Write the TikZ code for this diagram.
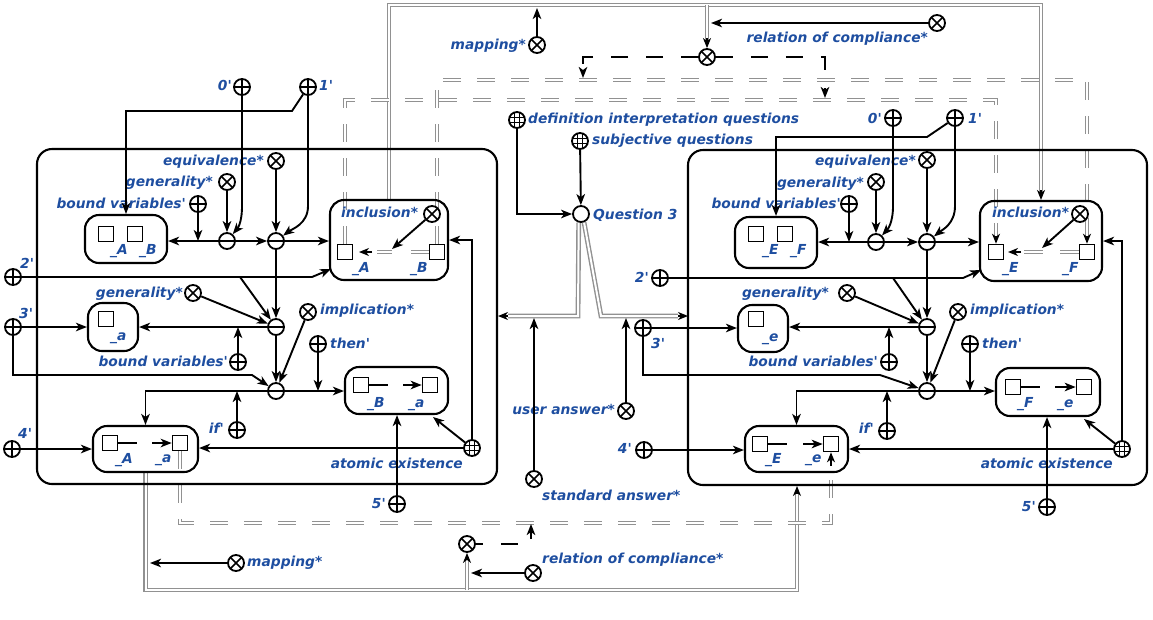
\documentclass[tikz,border=0pt]{standalone}
\usepackage{fontspec}
\setmainfont{DejaVu Sans}
\usetikzlibrary{arrows.meta,calc}
\pgfdeclarelayer{bg}
\pgfsetlayers{bg,main}
\definecolor{lblue}{RGB}{30,78,160}
\definecolor{dgray}{RGB}{145,145,145}
\newcommand{\qt}{\textquotesingle}
\tikzset{
  lbl/.style={text=lblue,font=\fontsize{13.8}{15}\selectfont\bfseries\itshape,inner sep=0pt},
  sym/.style={circle,draw,line width=1.8pt,minimum size=16pt,inner sep=0pt,fill=white},
  oplus/.style={sym,path picture={\draw[line width=1.6pt] (path picture bounding box.north)--(path picture bounding box.south) (path picture bounding box.west)--(path picture bounding box.east);}},
  otimes/.style={sym,path picture={\draw[line width=1.6pt] (path picture bounding box.north west)--(path picture bounding box.south east) (path picture bounding box.south west)--(path picture bounding box.north east);}},
  ominus/.style={sym,path picture={\draw[line width=1.6pt] (path picture bounding box.west)--(path picture bounding box.east);}},
  ogrid/.style={sym,path picture={\foreach \d in {-2.7,2.7}{\draw[line width=0.9pt] ([xshift=\d pt]path picture bounding box.north)--([xshift=\d pt]path picture bounding box.south) ([yshift=\d pt]path picture bounding box.west)--([yshift=\d pt]path picture bounding box.east);}}},
  rbox/.style={draw,line width=2.1pt,rounded corners=14pt,inner sep=0pt},
  frm/.style={draw,line width=2.1pt,rounded corners=15pt,inner sep=0pt},
  sq/.style={draw,line width=1.6pt,minimum size=15pt,inner sep=0pt},
  ln/.style={line width=1.9pt},
  arr/.style={line width=1.9pt,-{Stealth[length=11pt,width=8.5pt,inset=3pt]}},
  tipo/.style={line width=1.4pt,-{Stealth[length=10pt,width=8pt,inset=3pt]}},
  dbl/.style={draw=dgray,double=white,line width=1.4pt,double distance=2pt},
  ddbl/.style={dbl,dash pattern=on 18pt off 16pt},
  bdash/.style={line width=2.4pt,dash pattern=on 17pt off 18pt},
}
\begin{document}
\begin{tikzpicture}[x=1pt,y=-1pt]
\useasboundingbox (0,0) rectangle (1153,619);
% frames
\node[frm,minimum width=460pt,minimum height=335pt] (frL) at (267,316.5) {};
\node[frm,minimum width=459pt,minimum height=335pt] (frR) at (917.5,317.5) {};
% boxes
\node[rbox,minimum width=82pt,minimum height=48pt] (b1L) at (126,239) {};
\node[rbox,minimum width=50pt,minimum height=48pt] (b2L) at (113,327) {};
\node[rbox,minimum width=103pt,minimum height=47pt] (b3L) at (396.5,390.5) {};
\node[rbox,minimum width=105pt,minimum height=46pt] (b4L) at (145.5,449) {};
\node[rbox,minimum width=118pt,minimum height=80pt] (incL) at (389,240) {};
\node[rbox,minimum width=82pt,minimum height=51pt] (b1R) at (776,242.5) {};
\node[rbox,minimum width=50pt,minimum height=47pt] (b2R) at (763,328.5) {};
\node[rbox,minimum width=104pt,minimum height=48pt] (b3R) at (1048,392) {};
\node[rbox,minimum width=103pt,minimum height=46pt] (b4R) at (796.5,449) {};
\node[rbox,minimum width=122pt,minimum height=80pt] (incR) at (1041,241) {};
% squares
\node[sq] (s1La) at (106,234) {}; \node[sq] (s1Lb) at (135,234) {};
\node[sq] (s2La) at (106,319) {};
\node[sq] (s3La) at (361,385) {}; \node[sq] (s3Lb) at (430,385) {};
\node[sq] (s4La) at (110,443) {}; \node[sq] (s4Lb) at (180,443) {};
\node[sq] (sIA) at (345,252) {}; \node[sq] (sIB) at (437,252) {};
\node[sq] (s1Ra) at (756,234) {}; \node[sq] (s1Rb) at (785,234) {};
\node[sq] (s2Ra) at (756,319) {};
\node[sq] (s3Ra) at (1013,387) {}; \node[sq] (s3Rb) at (1084,387) {};
\node[sq] (s4Ra) at (760,444) {}; \node[sq] (s4Rb) at (831,444) {};
\node[sq] (sIE) at (996,252) {}; \node[sq] (sIF) at (1087,252) {};
% left symbols
\node[oplus] (zL) at (242,87) {};
\node[oplus] (oL) at (308,87) {};
\node[otimes] (eqL) at (276,161) {};
\node[otimes] (g1L) at (227,182) {};
\node[oplus] (bv1L) at (198,204) {};
\node[ominus] (m1L) at (227,241) {};
\node[ominus] (m2L) at (276,241) {};
\node[oplus] (twoL) at (13,277) {};
\node[otimes] (g2L) at (193,293) {};
\node[ominus] (m3L) at (276,327) {};
\node[oplus] (bv2L) at (238,362) {};
\node[oplus] (thrL) at (13,327) {};
\node[otimes] (imL) at (308,312) {};
\node[oplus] (thL) at (318,344) {};
\node[ominus] (m4L) at (276,391) {};
\node[oplus] (ifL) at (237,430) {};
\node[oplus] (fourL) at (12,449) {};
\node[ogrid] (atL) at (472,448) {};
\node[oplus] (fiveL) at (397,504) {};
\node[otimes] (incXL) at (432,214) {};
% right symbols
\node[oplus] (zR) at (893,118) {};
\node[oplus] (oR) at (955,118) {};
\node[otimes] (eqR) at (927,160) {};
\node[otimes] (g1R) at (876,182) {};
\node[oplus] (bv1R) at (849,204) {};
\node[ominus] (m1R) at (876,242) {};
\node[ominus] (m2R) at (927,242) {};
\node[oplus] (twoR) at (660,278) {};
\node[otimes] (g2R) at (847,293) {};
\node[ominus] (m3R) at (927,327) {};
\node[oplus] (bv2R) at (889,362) {};
\node[oplus] (thrR) at (643,328) {};
\node[otimes] (imR) at (958,312) {};
\node[oplus] (thR) at (970,344) {};
\node[ominus] (m4R) at (927,391) {};
\node[oplus] (ifR) at (887,431) {};
\node[oplus] (fourR) at (644,450) {};
\node[ogrid] (atR) at (1122,449) {};
\node[oplus] (fiveR) at (1047,507) {};
\node[otimes] (incXR) at (1080,214) {};
% middle symbols
\node[otimes] (mapT) at (537,45) {};
\node[otimes] (relT1) at (707,57) {};
\node[otimes] (relT2) at (937,23) {};
\node[ogrid] (defQ) at (517,120) {};
\node[ogrid] (subQ) at (580,141) {};
\node[sym] (q3) at (581,214) {};
\node[otimes] (uans) at (626,411) {};
\node[otimes] (sans) at (534,479) {};
\node[otimes] (mapB) at (236,563) {};
\node[otimes] (relB1) at (467,544) {};
\node[otimes] (relB2) at (533,573) {};
% labels left
\node[lbl,anchor=base east] at (232,90) {0\qt};
\node[lbl,anchor=base west] at (319,90) {1\qt};
\node[lbl,anchor=base east] at (264,165) {equivalence*};
\node[lbl,anchor=base east] at (213,186) {generality*};
\node[lbl,anchor=base east] at (186,208) {bound variables\qt};
\node[lbl,anchor=base west] at (341,217) {inclusion*};
\node[lbl,anchor=base west] at (20,268) {2\qt};
\node[lbl,anchor=base east] at (183,297) {generality*};
\node[lbl,anchor=base west] at (19,318) {3\qt};
\node[lbl,anchor=base west] at (320,314) {implication*};
\node[lbl,anchor=base east] at (228,366) {bound variables\qt};
\node[lbl,anchor=base west] at (330,348) {then\qt};
\node[lbl,anchor=base east] at (224,433) {if\qt};
\node[lbl,anchor=base west] at (18,438) {4\qt};
\node[lbl,anchor=base east] at (463,468) {atomic existence};
\node[lbl,anchor=base east] at (386,508) {5\qt};
\node[lbl,anchor=base west] at (110,254) {\_A};
\node[lbl,anchor=base west] at (139,254) {\_B};
\node[lbl,anchor=base west] at (110,340) {\_a};
\node[lbl,anchor=base west] at (367,407) {\_B};
\node[lbl,anchor=base west] at (408,407) {\_a};
\node[lbl,anchor=base west] at (115,463) {\_A};
\node[lbl,anchor=base west] at (155,462) {\_a};
\node[lbl,anchor=base west] at (352,272) {\_A};
\node[lbl,anchor=base west] at (410,272) {\_B};
% labels right
\node[lbl,anchor=base east] at (882,123) {0\qt};
\node[lbl,anchor=base west] at (968,123) {1\qt};
\node[lbl,anchor=base east] at (916,165) {equivalence*};
\node[lbl,anchor=base east] at (864,187) {generality*};
\node[lbl,anchor=base east] at (841,208) {bound variables\qt};
\node[lbl,anchor=base west] at (992,217) {inclusion*};
\node[lbl,anchor=base east] at (649,282) {2\qt};
\node[lbl,anchor=base east] at (829,297) {generality*};
\node[lbl,anchor=base west] at (651,348) {3\qt};
\node[lbl,anchor=base west] at (970,314) {implication*};
\node[lbl,anchor=base east] at (878,366) {bound variables\qt};
\node[lbl,anchor=base west] at (982,348) {then\qt};
\node[lbl,anchor=base east] at (874,433) {if\qt};
\node[lbl,anchor=base east] at (632,453) {4\qt};
\node[lbl,anchor=base east] at (1113,468) {atomic existence};
\node[lbl,anchor=base east] at (1036,511) {5\qt};
\node[lbl,anchor=base west] at (762,254) {\_E};
\node[lbl,anchor=base west] at (790,254) {\_F};
\node[lbl,anchor=base west] at (762,341) {\_e};
\node[lbl,anchor=base west] at (1017,407) {\_F};
\node[lbl,anchor=base west] at (1057,407) {\_e};
\node[lbl,anchor=base west] at (765,463) {\_E};
\node[lbl,anchor=base west] at (805,462) {\_e};
\node[lbl,anchor=base west] at (1002,272) {\_E};
\node[lbl,anchor=base west] at (1062,272) {\_F};
% labels middle
\node[lbl,anchor=base east] at (526,49) {mapping*};
\node[lbl,anchor=base east] at (928,42) {relation of compliance*};
\node[lbl,anchor=base west] at (528,123) {definition interpretation questions};
\node[lbl,anchor=base west] at (592,144) {subjective questions};
\node[lbl,anchor=base west] at (593,219) {Question 3};
\node[lbl,anchor=base east] at (615,414) {user answer*};
\node[lbl,anchor=base west] at (542,500) {standard answer*};
\node[lbl,anchor=base west] at (247,566) {mapping*};
\node[lbl,anchor=base west] at (542,563) {relation of compliance*};
% coordinates
\coordinate (c1L) at (292,111);
\coordinate (c1R) at (927,137);
\coordinate (cz1L) at (242,206); \coordinate (co1L) at (308,206);
\coordinate (cz1R) at (893,206); \coordinate (co1R) at (955,206);
\coordinate (c2L) at (312,277); \coordinate (e2L) at (331,269); \coordinate (br2L) at (240,277);
\coordinate (c2R) at (963,278); \coordinate (e2R) at (981,270); \coordinate (br2R) at (893,278);
\coordinate (c3La) at (13,375); \coordinate (c3Lb) at (252,375);
\coordinate (c3Ra) at (643,375); \coordinate (c3Rb) at (880,375);
\coordinate (a3L) at (433,417); \coordinate (a3R) at (1084,419);
\coordinate (uE) at (626,318); \coordinate (sE) at (534,318);
\coordinate (mE) at (537,8); \coordinate (rE) at (711,23);
\coordinate (d1) at (583,57); \coordinate (d1e) at (583,78);
\coordinate (d2) at (825,57); \coordinate (d2e) at (825,98);
\coordinate (d3) at (531,544); \coordinate (d3e) at (531,524);
\coordinate (rbE) at (471,573); \coordinate (mbE) at (150,563);
% inner box lines
\draw[ln] (s3La.east) -- ++(19,0);
\draw[arr] (403,385) -- (s3Lb.west);
\draw[ln] (s4La.east) -- ++(19,0);
\draw[arr] (152,443) -- (s4Lb.west);
\draw[ln] (s3Ra.east) -- ++(19,0);
\draw[arr] (1055,387) -- (s3Rb.west);
\draw[ln] (s4Ra.east) -- ++(19,0);
\draw[arr] (803,444) -- (s4Rb.west);
\draw[dbl] (377,252) -- (392,252);
\draw[dbl] (411,252) -- (sIB.west);
\draw[tipo] (372,252) -- (359,252);
\draw[arr] (incXL) -- (392,249);
\draw[dbl] (1024,252) -- (1043,252);
\draw[dbl] (1060,252) -- (sIF.west);
\draw[tipo] (1021,252) -- (1008,252);
\draw[arr] (incXR) -- (1042,248);
% left connectors
\draw[arr] (oL) -- (c1L) -| (b1L.north);
\draw[arr] (zL) -- (cz1L) .. controls (242,224) and (237,229) .. (m1L);
\draw[arr] (oL) -- (co1L) .. controls (308,224) and (292,229) .. (m2L);
\draw[arr] (eqL) -- (m2L);
\draw[arr] (g1L) -- (m1L);
\draw[arr] (bv1L) -- (bv1L |- m1L);
\draw[arr] (m1L) -- (m1L -| b1L.east);
\draw[arr] (m1L) -- (m2L);
\draw[arr] (m2L) -- (m2L -| incL.west);
\draw[arr] (m2L) -- (m3L);
\draw[arr] (twoL) -- (c2L) -- (e2L);
\draw[arr] (br2L) -- (m3L);
\draw[arr] (g2L) -- (m3L);
\draw[arr] (m3L) -- (m3L -| b2L.east);
\draw[arr] (bv2L) -- (bv2L |- m3L);
\draw[arr] (thrL) -- (thrL -| b2L.west);
\draw[arr] (thrL) -- (c3La) -- (c3Lb) -- (m4L);
\draw[arr] (m3L) -- (m4L);
\draw[arr] (imL) -- (m4L);
\draw[arr] (thL) -- (thL |- m4L);
\draw[arr] (m4L) -- (m4L -| b3L.west);
\draw[arr] (m4L) -| (b4L.north);
\draw[arr] (ifL) -- (ifL |- m4L);
\draw[arr] (fourL) -- (fourL -| b4L.west);
\draw[arr] (atL) -- (atL -| b4L.east);
\draw[arr] (atL) -- (a3L);
\draw[arr] (atL) |- (incL.east);
\draw[arr] (fiveL) -- (fiveL |- b3L.south);
% right connectors
\draw[arr] (oR) -- (c1R) -| (b1R.north);
\draw[arr] (zR) -- (cz1R) .. controls (893,224) and (887,230) .. (m1R);
\draw[arr] (oR) -- (co1R) .. controls (955,224) and (942,230) .. (m2R);
\draw[arr] (eqR) -- (m2R);
\draw[arr] (g1R) -- (m1R);
\draw[arr] (bv1R) -- (bv1R |- m1R);
\draw[arr] (m1R) -- (m1R -| b1R.east);
\draw[arr] (m1R) -- (m2R);
\draw[arr] (m2R) -- (m2R -| incR.west);
\draw[arr] (m2R) -- (m3R);
\draw[arr] (twoR) -- (c2R) -- (e2R);
\draw[arr] (br2R) -- (m3R);
\draw[arr] (g2R) -- (m3R);
\draw[arr] (m3R) -- (m3R -| b2R.east);
\draw[arr] (bv2R) -- (bv2R |- m3R);
\draw[arr] (thrR) -- (thrR -| b2R.west);
\draw[arr] (thrR) -- (c3Ra) -- (c3Rb) -- (m4R);
\draw[arr] (m3R) -- (m4R);
\draw[arr] (imR) -- (m4R);
\draw[arr] (thR) -- (thR |- m4R);
\draw[arr] (m4R) -- (m4R -| b3R.west);
\draw[arr] (m4R) -| (b4R.north);
\draw[arr] (ifR) -- (ifR |- m4R);
\draw[arr] (fourR) -- (fourR -| b4R.west);
\draw[arr] (atR) -- (atR -| b4R.east);
\draw[arr] (atR) -- (a3R);
\draw[arr] (atR) |- (incR.east);
\draw[arr] (fiveR) -- (fiveR |- b3R.south);
% middle connectors
\draw[arr] (defQ) |- (q3);
\draw[arr] (subQ) -- (q3);
\draw[arr] (uans) -- (uE);
\draw[arr] (sans) -- (sE);
\draw[arr] (mapT) -- (mE);
\draw[arr] (relT2) -- (rE);
\draw[bdash,-{Stealth[length=11pt,width=8.5pt,inset=3pt]}] (relT1) -- (d1) -- (d1e);
\draw[bdash,-{Stealth[length=11pt,width=8.5pt,inset=3pt]}] (relT1) -- (d2) -- (d2e);
\draw[bdash,dash phase=10pt,-{Stealth[length=11pt,width=8.5pt,inset=3pt]}] (relB1) -- (d3) -- (d3e);
\draw[arr] (relB2) -- (rbE);
\draw[arr] (mapB) -- (mbE);
% double lines on background
\begin{pgfonlayer}{bg}
\coordinate (t1) at (389,5); \coordinate (t2) at (1041,5); \coordinate (t3) at (1041,192);
\draw[dbl] (incL.north) -- (t1) -- (t2) -- (t3);
\coordinate (t4) at (707,5); \coordinate (t5) at (707,40);
\draw[dbl] (t4) -- (t5);
\coordinate (q1) at (578,316); \coordinate (q1e) at (508,316); \coordinate (q1t) at (498,316);
\draw[dbl] (q3.255) -- (q1) -- (q1e);
\coordinate (q2) at (601,316); \coordinate (q2e) at (678,316); \coordinate (q2t) at (688,316);
\draw[dbl] (q3.290) -- (q2) -- (q2e);
\coordinate (u1) at (145.5,590); \coordinate (u2) at (797,590); \coordinate (u3) at (797,494); \coordinate (u4) at (797,486);
\draw[dbl] (b4L.south) -- (u1) -- (u2) -- (u3);
\coordinate (v1) at (467,590); \coordinate (v2) at (467,560);
\draw[dbl] (v1) -- (v2);
\coordinate (r1a) at (345,100); \coordinate (r1b) at (996,100); \coordinate (r1c) at (996,236);
\draw[ddbl] (sIA.north) -- (r1a) -- (r1b) -- (r1c);
\coordinate (r2a) at (437,80); \coordinate (r2b) at (1087,80); \coordinate (r2c) at (1087,236);
\draw[ddbl] (sIB.north) -- (r2a) -- (r2b) -- (r2c);
\coordinate (r3a) at (180,523); \coordinate (r3b) at (831,523); \coordinate (r3c) at (831,466);
\draw[ddbl] (s4Lb.south) -- (r3a) -- (r3b) -- (r3c);
\end{pgfonlayer}
% tips on double lines
\draw[tipo] (1041,190) -- (incR.north);
\draw[tipo] (707,38) -- (relT1);
\draw[tipo] (q1e) -- (q1t);
\draw[tipo] (q2e) -- (q2t);
\draw[tipo] (u3) -- (u4);
\draw[tipo] (v2) -- (relB1);
\draw[tipo] (r1c) -- (sIE.north);
\draw[tipo] (r2c) -- (sIF.north);
\draw[tipo] (r3c) -- (s4Rb.south);
\end{tikzpicture}
\end{document}
